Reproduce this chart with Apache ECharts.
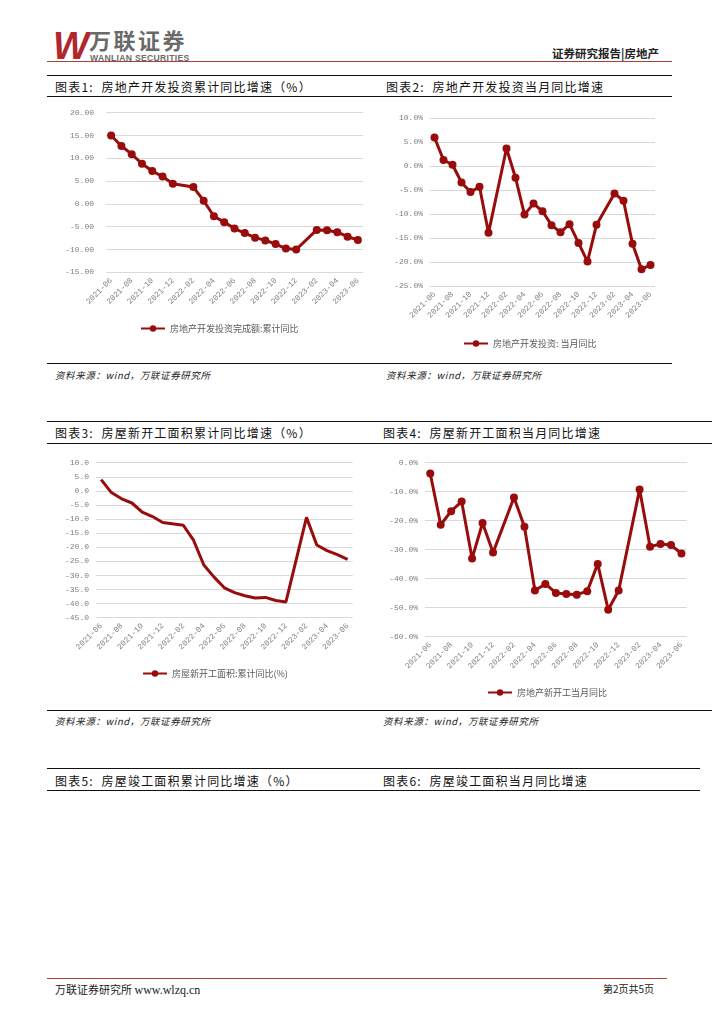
<!DOCTYPE html>
<html><head><meta charset="utf-8">
<script src="https://cdn.jsdelivr.net/npm/echarts@6/dist/echarts.min.js"></script>
<style>
html,body{margin:0;padding:0;background:#fff;}
body{width:724px;height:1024px;position:relative;overflow:hidden;font-family:"Noto Sans CJK SC","Noto Sans",sans-serif;}
.a{position:absolute;white-space:nowrap;}
.ln{position:absolute;height:0;}
.t{font-size:12px;color:#111;letter-spacing:1.2px;line-height:14px;}
.s{font-size:9.5px;color:#222;font-style:italic;line-height:12px;letter-spacing:0.6px;}
#c{position:absolute;left:0;top:0;width:724px;height:1024px;}
</style></head>
<body>
<!-- header -->
<div class="a" style="left:53px;top:26px;font:italic 900 38px 'Liberation Sans',Arial,sans-serif;color:#b0272c;letter-spacing:-3px;line-height:40px;">W</div>
<div class="a" style="left:89px;top:26px;font-size:22px;font-weight:700;color:#6a6a6a;letter-spacing:2.5px;line-height:26px;">万联证券</div>
<div class="a" style="left:90px;top:53px;font:600 8.6px 'Liberation Sans',Arial,sans-serif;color:#6a6a6a;letter-spacing:0.3px;">WANLIAN SECURITIES</div>
<div class="a" style="left:552px;top:46px;font-size:11.5px;font-weight:700;color:#222;line-height:14px;">证券研究报告|房地产</div>
<div class="ln" style="left:47px;top:61px;width:625px;border-top:1.2px solid #a9403c;"></div>

<!-- section 1 -->
<div class="ln" style="left:47px;top:75px;width:625px;border-top:1.6px solid #111;"></div>
<div class="a t" style="left:55px;top:80px;">图表1:&nbsp;&nbsp;房地产开发投资累计同比增速（%）</div>
<div class="a t" style="left:386px;top:80px;">图表2:&nbsp;&nbsp;房地产开发投资当月同比增速</div>
<div class="ln" style="left:47px;top:96px;width:625px;border-top:1.6px solid #111;"></div>
<div class="ln" style="left:47px;top:363px;width:625px;border-top:1.6px solid #111;"></div>
<div class="a s" style="left:55px;top:369px;">资料来源：wind，万联证券研究所</div>
<div class="a s" style="left:386px;top:369px;">资料来源：wind，万联证券研究所</div>

<!-- section 2 -->
<div class="ln" style="left:47px;top:421px;width:665px;border-top:1.6px solid #111;"></div>
<div class="a t" style="left:55px;top:426px;">图表3:&nbsp;&nbsp;房屋新开工面积累计同比增速（%）</div>
<div class="a t" style="left:383px;top:426px;">图表4:&nbsp;&nbsp;房屋新开工面积当月同比增速</div>
<div class="ln" style="left:47px;top:443px;width:665px;border-top:1.6px solid #111;"></div>
<div class="ln" style="left:47px;top:710px;width:665px;border-top:1.6px solid #111;"></div>
<div class="a s" style="left:55px;top:715px;">资料来源：wind，万联证券研究所</div>
<div class="a s" style="left:383px;top:715px;">资料来源：wind，万联证券研究所</div>

<!-- section 3 -->
<div class="ln" style="left:47px;top:768px;width:653px;border-top:1.6px solid #111;"></div>
<div class="a t" style="left:55px;top:774px;">图表5:&nbsp;&nbsp;房屋竣工面积累计同比增速（%）</div>
<div class="a t" style="left:383px;top:774px;">图表6:&nbsp;&nbsp;房屋竣工面积当月同比增速</div>
<div class="ln" style="left:47px;top:790px;width:653px;border-top:1.6px solid #111;"></div>

<!-- footer -->
<div class="ln" style="left:47px;top:978px;width:620px;border-top:1.2px solid #a9403c;"></div>
<div class="a" style="left:55px;top:982px;font-size:11px;color:#222;line-height:14px;">万联证券研究所&nbsp;<span style="font-family:'Liberation Serif',serif;font-size:12px;">www.wlzq.cn</span></div>
<div class="a" style="left:603px;top:982px;font-size:10px;color:#222;line-height:14px;">第2页共5页</div>

<div id="c"></div>
<script>
// ---- data ----
var months = ["2021-06","2021-07","2021-08","2021-09","2021-10","2021-11","2021-12",
  "2022-01","2022-02","2022-03","2022-04","2022-05","2022-06","2022-07","2022-08","2022-09","2022-10","2022-11","2022-12",
  "2023-01","2023-02","2023-03","2023-04","2023-05","2023-06"];
var investCum   = [15.0,12.7,10.9,8.8,7.2,6.0,4.4,null,3.7,0.7,-2.7,-4.0,-5.4,-6.4,-7.4,-8.0,-8.8,-9.8,-10.0,null,-5.7,-5.8,-6.2,-7.2,-7.9];
var investMonth = [6.0,1.3,0.3,-3.4,-5.4,-4.3,-13.9,null,3.7,-2.4,-10.1,-7.8,-9.4,-12.3,-13.8,-12.1,-16.0,-19.9,-12.2,null,-5.7,-7.2,-16.2,-21.5,-20.6];
var startCum    = [4.0,-0.6,-2.8,-4.3,-7.5,-9.1,-11.2,null,-12.2,-17.5,-26.3,-30.6,-34.4,-36.1,-37.2,-38.0,-37.8,-38.9,-39.4,null,-9.4,-19.2,-21.2,-22.6,-24.3];
var startMonth  = [-3.7,-21.4,-16.7,-13.4,-33.0,-20.8,-31.0,null,-12.0,-22.1,-44.1,-41.8,-44.9,-45.3,-45.5,-44.3,-34.9,-50.7,-44.1,null,-9.2,-29.0,-28.0,-28.4,-31.3];
var names = ["房地产开发投资完成额:累计同比","房地产开发投资: 当月同比","房屋新开工面积:累计同比(%)","房地产新开工当月同比"];

var RED = "#990c0c";
var GRID = "#d9d9d9";
var LBL = {fontFamily:"Liberation Mono, DejaVu Sans Mono, monospace", fontSize:8, color:"#7f7f7f"};

var grids = [
  {left:106, top:112.7, width:257, height:159.6},
  {left:430, top:118.3, width:225, height:167.7},
  {left:96,  top:462.7, width:256.7, height:155},
  {left:425, top:462.7, width:261.7, height:174}
];
var yCfg = [
  {min:-15, max:20, interval:5, fmt:function(v){return v.toFixed(2);}, margin:12},
  {min:-25, max:10, interval:5, fmt:function(v){return v.toFixed(1)+"%";}, margin:7},
  {min:-45, max:10, interval:5, fmt:function(v){return v.toFixed(1);}, margin:7},
  {min:-60, max:0, interval:10, fmt:function(v){return v.toFixed(1)+"%";}, margin:7}
];
var data = [investCum, investMonth, startCum, startMonth];
var markers = [true, true, false, true];
var legendPos = [{left:135, top:319}, {left:458, top:334}, {left:137, top:664}, {left:482, top:683}];

var option = {animation:false, grid:[], xAxis:[], yAxis:[], series:[], legend:[]};
for (var i=0;i<4;i++){
  option.grid.push(grids[i]);
  option.xAxis.push({type:"category", gridIndex:i, data:months, boundaryGap:true,
    axisLine:{show:true, lineStyle:{color:GRID, width:1}}, axisTick:{show:false},
    axisLabel:Object.assign({interval:1, rotate:45, margin:7}, LBL), splitLine:{show:false}});
  (function(c){
    option.yAxis.push({type:"value", gridIndex:i, min:c.min, max:c.max, interval:c.interval,
      axisLine:{show:false}, axisTick:{show:false},
      axisLabel:Object.assign({margin:c.margin, formatter:c.fmt}, LBL),
      splitLine:{show:true, lineStyle:{color:GRID, width:1}}});
  })(yCfg[i]);
  option.series.push({type:"line", name:names[i], xAxisIndex:i, yAxisIndex:i, data:data[i],
    connectNulls:true, smooth:false,
    showSymbol:markers[i], showAllSymbol:true, symbol:markers[i]?"circle":"none", symbolSize:8,
    lineStyle:{color:RED, width:3}, itemStyle:{color:RED}});
  option.legend.push({data:[names[i]], left:legendPos[i].left, top:legendPos[i].top,
    itemWidth:24, itemHeight:8, itemGap:4,
    textStyle:{fontFamily:"Noto Sans CJK SC", fontSize:9, color:"#595959"}});
}
var chart = echarts.init(document.getElementById("c"), null, {renderer:"canvas"});
chart.setOption(option);
</script>
</body></html>
